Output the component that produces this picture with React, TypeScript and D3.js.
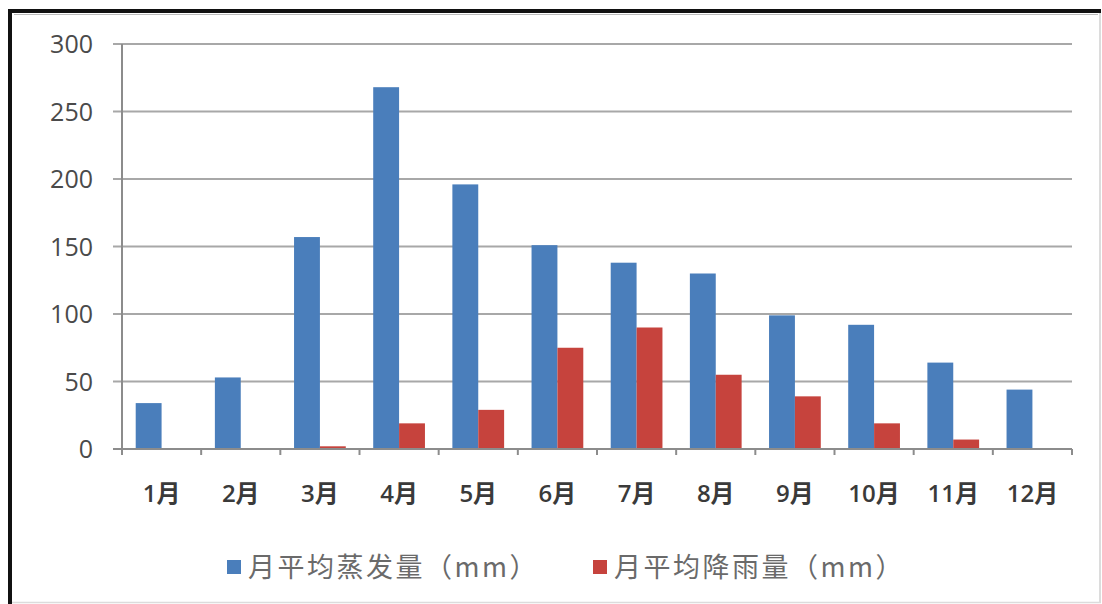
import * as d3 from 'd3'
import React, { useRef, useEffect } from 'react'

const months = ['1月', '2月', '3月', '4月', '5月', '6月', '7月', '8月', '9月', '10月', '11月', '12月']
const evaporation = [34, 53, 157, 268, 196, 151, 138, 130, 99, 92, 64, 44]
const rainfall = [0, 0, 2, 19, 29, 75, 90, 55, 39, 19, 7, 0]
const seriesNames = ['月平均蒸发量（mm）', '月平均降雨量（mm）']
const seriesColors = ['#4a7ebb', '#c6433d']
const yTicks = [0, 50, 100, 150, 200, 250, 300]

const W = 1102
const H = 604
const left = 122
const right = 1072
const top = 44
const bottom = 449

export default function App() {
  const svgRef = useRef<SVGSVGElement>(null)

  useEffect(() => {
    const svg = d3.select(svgRef.current)
    svg.selectAll('*').remove()

    svg.append('rect').attr('width', W).attr('height', H).attr('fill', '#fff')

    // frame
    svg.append('line').attr('x1', 1100).attr('x2', 1100).attr('y1', 12).attr('y2', 603).attr('stroke', '#d0d0d0').attr('stroke-width', 1.5)
    svg.append('line').attr('x1', 10).attr('x2', 1101).attr('y1', 602.5).attr('y2', 602.5).attr('stroke', '#dcdcdc').attr('stroke-width', 1.5)
    svg.append('line').attr('x1', 14).attr('x2', 1098).attr('y1', 14.5).attr('y2', 14.5).attr('stroke', '#bbb').attr('stroke-width', 1)
    svg.append('line').attr('x1', 8).attr('x2', 1101).attr('y1', 11).attr('y2', 11).attr('stroke', '#111').attr('stroke-width', 4)
    svg.append('line').attr('x1', 10).attr('x2', 10).attr('y1', 9).attr('y2', 604).attr('stroke', '#111').attr('stroke-width', 4)

    const y = d3.scaleLinear().domain([0, 300]).range([bottom, top])
    const x = d3.scaleBand<string>().domain(months).range([left, right]).padding(0)
    const xs = d3.scaleBand<number>().domain([0, 1]).range([0, x.bandwidth()]).paddingInner(0).paddingOuter(0.53)

    // grid
    svg.append('g')
      .selectAll('line')
      .data(yTicks.filter((t) => t > 0))
      .join('line')
      .attr('x1', left - 9)
      .attr('x2', right)
      .attr('y1', (d) => y(d))
      .attr('y2', (d) => y(d))
      .attr('stroke', '#a8a8a8')
      .attr('stroke-width', 2)

    // y labels
    svg.append('g')
      .selectAll('text')
      .data(yTicks)
      .join('text')
      .text((d) => d)
      .attr('x', 93)
      .attr('y', (d) => y(d))
      .attr('dy', '0.36em')
      .attr('text-anchor', 'end')
      .attr('font-family', '"Open Sans", sans-serif')
      .attr('font-size', 25)
      .attr('fill', '#4a4a4a')

    // bars
    const data = months.map((m, i) => ({ m, vals: [evaporation[i], rainfall[i]] }))
    const groups = svg.append('g')
      .selectAll('g')
      .data(data)
      .join('g')
      .attr('transform', (d) => `translate(${x(d.m)},0)`)
    groups.selectAll('rect')
      .data((d) => d.vals.map((v, k) => ({ v, k })))
      .join('rect')
      .attr('x', (d) => xs(d.k)!)
      .attr('width', xs.bandwidth())
      .attr('y', (d) => y(d.v))
      .attr('height', (d) => bottom - y(d.v))
      .attr('fill', (d) => seriesColors[d.k])

    // axes
    svg.append('line').attr('x1', left).attr('x2', left).attr('y1', top).attr('y2', bottom + 6).attr('stroke', '#8c8c8c').attr('stroke-width', 2)
    svg.append('line').attr('x1', left - 9).attr('x2', right).attr('y1', bottom).attr('y2', bottom).attr('stroke', '#8c8c8c').attr('stroke-width', 2)
    svg.append('g')
      .selectAll('line')
      .data(months.map((m) => x(m)!).concat([right]))
      .join('line')
      .attr('x1', (d) => d)
      .attr('x2', (d) => d)
      .attr('y1', bottom)
      .attr('y2', bottom + 6)
      .attr('stroke', '#8c8c8c')
      .attr('stroke-width', 2)

    // x labels
    svg.append('g')
      .selectAll('text')
      .data(months)
      .join('text')
      .text((d) => d)
      .attr('x', (d) => x(d)! + x.bandwidth() / 2)
      .attr('y', 493)
      .attr('dy', '0.36em')
      .attr('text-anchor', 'middle')
      .attr('font-family', '"Open Sans", "Noto Sans CJK SC", sans-serif')
      .attr('font-size', 24)
      .attr('font-weight', 600)
      .attr('fill', '#3a3a3a')

    // legend
    const legendX = [227, 593]
    const lg = svg.append('g')
      .selectAll('g')
      .data(seriesNames)
      .join('g')
      .attr('transform', (_, i) => `translate(${legendX[i]},567)`)
    lg.append('rect')
      .attr('x', 0)
      .attr('y', -7)
      .attr('width', 14)
      .attr('height', 14)
      .attr('fill', (_, i) => seriesColors[i])
    lg.append('text')
      .text((d) => d)
      .attr('x', 21)
      .attr('y', 0)
      .attr('dy', '0.36em')
      .attr('font-family', '"Noto Sans CJK SC", sans-serif')
      .attr('font-size', 27)
      .attr('letter-spacing', 2.5)
      .attr('fill', '#6a6a6a')
  }, [])

  return (
    <div>
      <svg ref={svgRef} width={W} height={H} style={{ position: 'absolute', left: 0, top: 0 }} />
    </div>
  )
}
